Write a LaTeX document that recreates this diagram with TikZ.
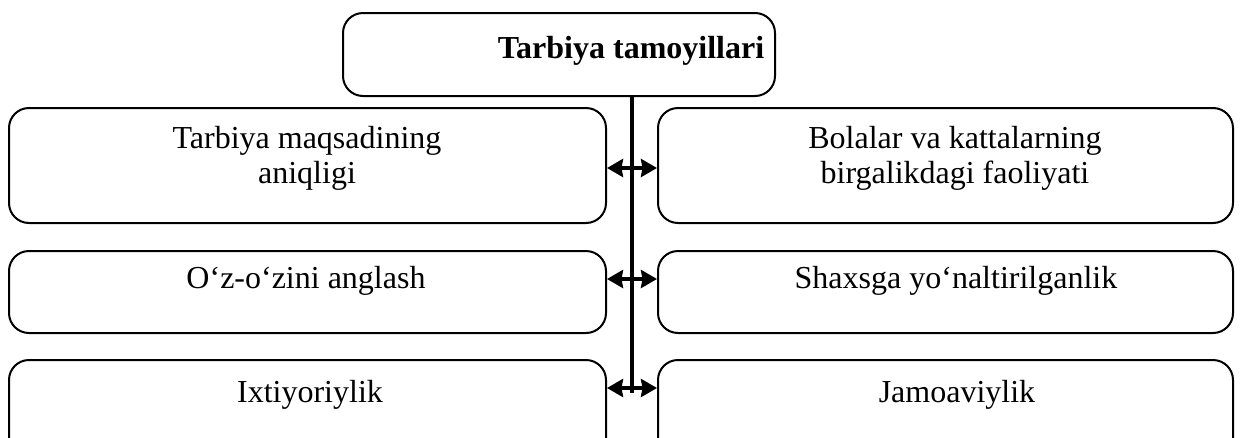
\documentclass[tikz,border=0pt]{standalone}
\usepackage{fontspec}
\setmainfont{Liberation Serif}
\usetikzlibrary{arrows.meta}
\tikzset{
  box/.style={draw=black, line width=2pt, rounded corners=20pt, inner sep=0pt},
  txt/.style={inner sep=0pt, align=center, font=\fontsize{32}{35}\selectfont},
  ttl/.style={inner sep=0pt, font=\fontsize{32}{35}\selectfont\bfseries},
  trunkline/.style={line width=4pt},
  arr/.style={line width=3.5pt, {Stealth[length=16pt,width=18pt,inset=1.5pt]}-{Stealth[length=16pt,width=18pt,inset=1.5pt]}}
}
\begin{document}
\begin{tikzpicture}[x=1pt,y=-1pt]
\clip (0,0) rectangle (1243,437);
% boxes
\node[box, minimum width=432pt, minimum height=83pt] (top) at (559,54.5) {};
\node[box, minimum width=597pt, minimum height=115pt] (l1) at (307.5,165.5) {};
\node[box, minimum width=575pt, minimum height=115pt] (r1) at (945.5,165.5) {};
\node[box, minimum width=597pt, minimum height=82pt] (l2) at (307.5,292) {};
\node[box, minimum width=575pt, minimum height=82pt] (r2) at (945.5,292) {};
\node[box, minimum width=597pt, minimum height=130pt] (l3) at (307.5,425) {};
\node[box, minimum width=575pt, minimum height=130pt] (r3) at (945.5,425) {};
% texts
\node[ttl, anchor=base] (ttop) at (631,58) {Tarbiya tamoyillari};
\node[txt] (tl1) at (307,158) {Tarbiya maqsadining\\aniqligi};
\node[txt] (tr1) at (955,158) {Bolalar va kattalarning\\birgalikdagi faoliyati};
\node[txt, anchor=base] (tl2) at (306,288) {O‘z-o‘zini anglash};
\node[txt, anchor=base] (tr2) at (956,288) {Shaxsga yo‘naltirilganlik};
\node[txt, anchor=base] (tl3) at (310,402) {Ixtiyoriylik};
\node[txt, anchor=base] (tr3) at (957,402) {Jamoaviylik};
% trunk and arrows
\coordinate (trunk) at (632,393);
\coordinate (a1) at (632,168);
\coordinate (a2) at (632,279);
\coordinate (a3) at (632,388);
\draw[trunkline] (top.south -| trunk) -- (trunk);
\draw[arr] (a1 -| l1.east) -- (a1 -| r1.west);
\draw[arr] (a2 -| l2.east) -- (a2 -| r2.west);
\draw[arr] (a3 -| l3.east) -- (a3 -| r3.west);
\end{tikzpicture}
\end{document}
